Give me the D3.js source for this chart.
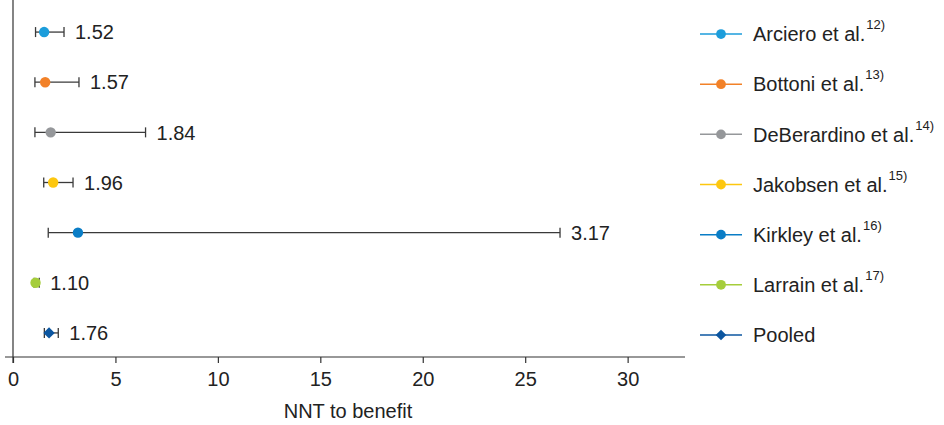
<!DOCTYPE html>
<html>
<head>
<meta charset="utf-8">
<script src="https://cdn.jsdelivr.net/npm/d3@7"></script>
<style>
  body { margin: 0; background: #fff; }
  svg { font-family: "Liberation Sans", Arial, sans-serif; }
</style>
</head>
<body>
<script>
/* DATA */
const studies = ["Arciero et al.", "Bottoni et al.", "DeBerardino et al.", "Jakobsen et al.", "Kirkley et al.", "Larrain et al.", "Pooled"];
const refs = ["12)", "13)", "14)", "15)", "16)", "17)", ""];
const nnt = [1.52, 1.57, 1.84, 1.96, 3.17, 1.10, 1.76];
const lower = [1.10, 1.07, 1.07, 1.50, 1.72, 1.03, 1.53];
const upper = [2.49, 3.22, 6.47, 2.93, 26.7, 1.28, 2.21];
const colors = ["#1c9ddb", "#f28128", "#95979a", "#fdc70f", "#0a7dc6", "#a5cd3b", "#0c56a0"];
const xTicks = [0, 5, 10, 15, 20, 25, 30];

/* LAYOUT */
const WIDTH = 944, HEIGHT = 425;

const svg = d3.select("body").append("svg")
    .attr("width", WIDTH)
    .attr("height", HEIGHT);

const x = d3.scaleLinear().domain([0, 32.8]).range([13, 685]);
const y = d3.scaleBand().domain(studies).range([7, 358]);

// marker: circle for studies, diamond (rotated square) for pooled
const marker = (i, size) => i === studies.length - 1
    ? d3.symbol(d3.symbolSquare, size * 0.75)()
    : d3.symbol(d3.symbolCircle, size)();
const markerRot = i => i === studies.length - 1 ? " rotate(45)" : "";

// axes
const xAxis = svg.append("g")
    .attr("transform", "translate(0,357)")
    .call(d3.axisBottom(x).tickValues(xTicks).tickSize(6).tickSizeOuter(0).tickPadding(9));
xAxis.select(".domain").attr("d", "M5,0H685");
xAxis.selectAll("line, path").attr("stroke", "#333").attr("stroke-width", 1.2);
xAxis.selectAll("text").attr("font-size", 20).attr("fill", "#222")
    .attr("font-family", "'Liberation Sans Narrow', 'Liberation Sans', Arial, sans-serif");

svg.append("line")
    .attr("x1", x(0)).attr("x2", x(0))
    .attr("y1", 0).attr("y2", 363)
    .attr("stroke", "#333").attr("stroke-width", 1.2);

svg.append("text")
    .attr("x", 348).attr("y", 418)
    .attr("text-anchor", "middle")
    .attr("font-size", 20).attr("fill", "#222")
    .text("NNT to benefit");

// rows
const rows = svg.append("g").selectAll("g")
    .data(studies)
    .join("g")
    .attr("transform", d => `translate(0,${y(d) + y.bandwidth() / 2})`);

rows.append("line")
    .attr("x1", (d, i) => x(lower[i])).attr("x2", (d, i) => x(upper[i]))
    .attr("stroke", "#3a3a3a").attr("stroke-width", 1.3);
rows.append("line")
    .attr("x1", (d, i) => x(lower[i])).attr("x2", (d, i) => x(lower[i]))
    .attr("y1", -5).attr("y2", 5)
    .attr("stroke", "#3a3a3a").attr("stroke-width", 1.3);
rows.append("line")
    .attr("x1", (d, i) => x(upper[i])).attr("x2", (d, i) => x(upper[i]))
    .attr("y1", -5).attr("y2", 5)
    .attr("stroke", "#3a3a3a").attr("stroke-width", 1.3);

rows.append("path")
    .attr("transform", (d, i) => `translate(${x(nnt[i])},0)` + markerRot(i))
    .attr("d", (d, i) => marker(i, 85))
    .attr("fill", (d, i) => colors[i]);

rows.append("text")
    .attr("x", (d, i) => x(upper[i]) + 11)
    .attr("dy", "0.36em")
    .attr("font-size", 20).attr("fill", "#222")
    .text((d, i) => nnt[i].toFixed(2));

// legend
const legend = svg.append("g").selectAll("g")
    .data(studies)
    .join("g")
    .attr("transform", (d, i) => `translate(700,${y(d) + y.bandwidth() / 2 + 2})`);

legend.append("line")
    .attr("x1", 0).attr("x2", 42)
    .attr("stroke", (d, i) => colors[i]).attr("stroke-width", 1.5);
legend.append("path")
    .attr("transform", (d, i) => "translate(21,0)" + markerRot(i))
    .attr("d", (d, i) => marker(i, 75))
    .attr("fill", (d, i) => colors[i]);

const lt = legend.append("text")
    .attr("x", 53).attr("dy", "0.36em")
    .attr("font-size", 20).attr("fill", "#222");
lt.append("tspan").text(d => d);
lt.append("tspan")
    .attr("font-size", 13)
    .attr("dx", 1).attr("dy", -12)
    .text((d, i) => refs[i]);
</script>
</body>
</html>
